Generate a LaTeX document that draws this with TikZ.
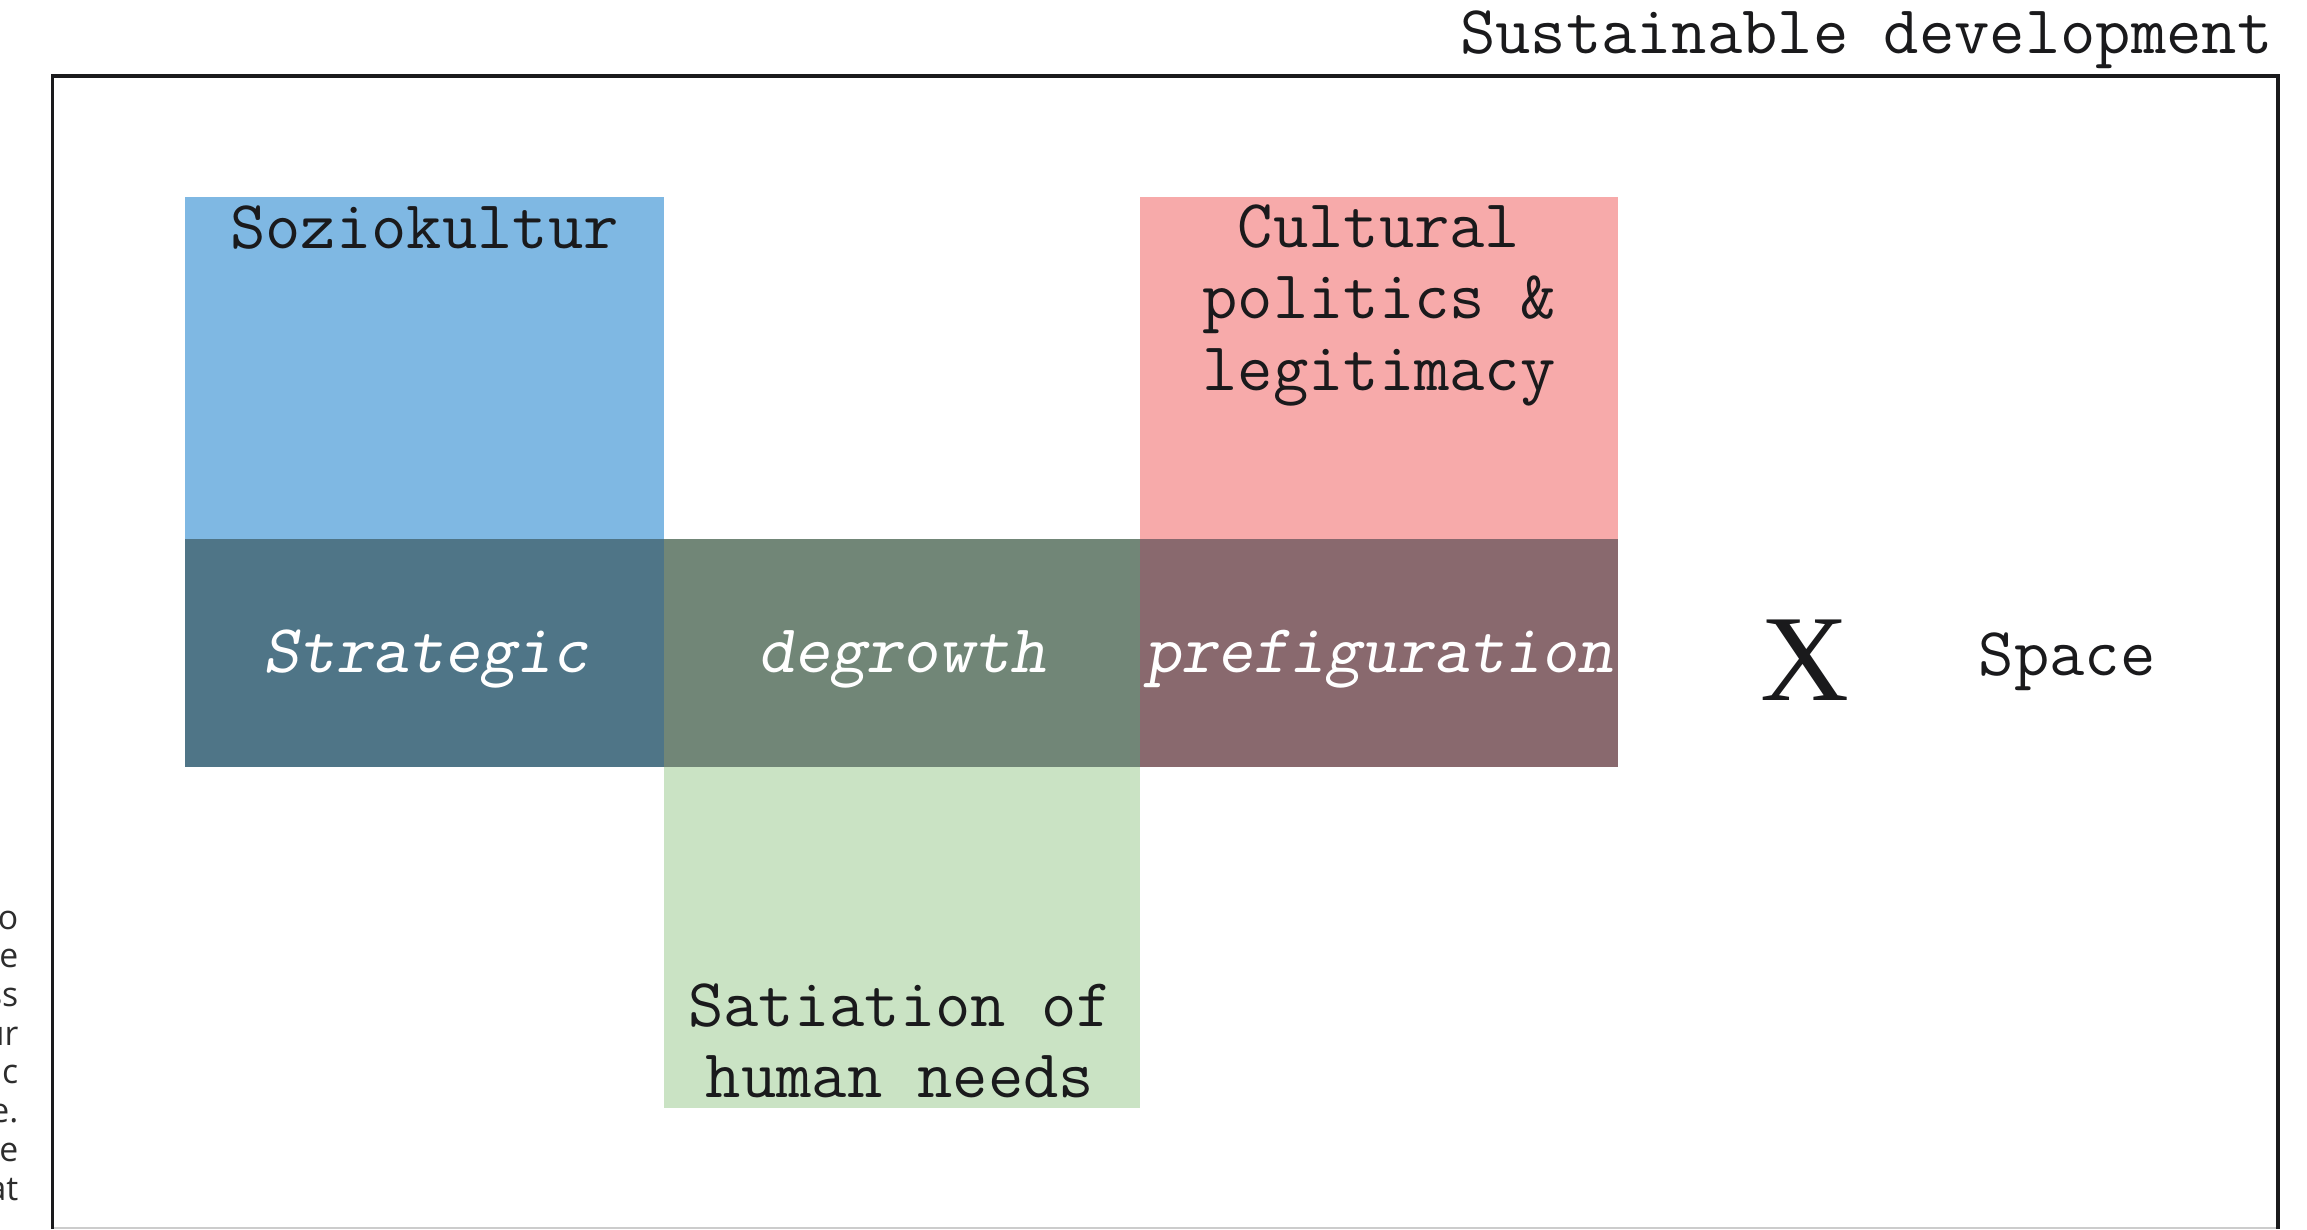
\documentclass[tikz,border=0pt]{standalone}
\usepackage{fontspec}
\setmainfont{Liberation Serif}
\newfontfamily\sidefont{Open Sans}
\usepackage{tikz}
\definecolor{box_blue}{RGB}{127,184,227}
\definecolor{box_pink}{RGB}{247,170,170}
\definecolor{box_green}{RGB}{202,227,196}
\definecolor{dark_blue}{RGB}{79,117,135}
\definecolor{dark_green}{RGB}{113,134,119}
\definecolor{dark_mauve}{RGB}{137,105,110}
\definecolor{text_black}{RGB}{26,26,28}
\definecolor{side_gray}{RGB}{45,45,45}

\begin{document}
\begin{tikzpicture}[x=0.01cm,y=-0.01cm]
    \tikzstyle{boxtext}=[font=\ttfamily\fontsize{19.5}{20.3}\selectfont, text=text_black, align=center, anchor=base, inner sep=0pt]
    \tikzstyle{midtext}=[boxtext, font=\ttfamily\slshape\fontsize{19.5}{20.3}\selectfont, text=white]

    \useasboundingbox (0,0) rectangle (2307,1229);

    % top row
    \fill[box_blue] (185,197) rectangle (664,538.5);
    \fill[box_pink] (1140,197) rectangle (1618,538.5);
    % middle row
    \fill[dark_blue] (185,538.5) rectangle (664,766.5);
    \fill[dark_green] (664,538.5) rectangle (1140,766.5);
    \fill[dark_mauve] (1140,538.5) rectangle (1618,766.5);
    % bottom row
    \fill[box_green] (664,766.5) rectangle (1140,1108);

    \draw[line width=1pt, text_black] (52.5,1229) -- (52.5,76) -- (2278,76) -- (2278,1229);
    \draw[gray!40, line width=0.5pt] (54,1228) -- (2276,1228);

    % multi-line nodes sit on the baseline of their last line
    \node[boxtext] (soz)   at (424.5,248.5) {Soziokultur};
    \node[boxtext] (cult)  at (1379,390)    {Cultural\\politics \&\\legitimacy};
    \node[midtext] (strat) at (426,672)     {Strategic};
    \node[midtext] (degr)  at (902,672)     {degrowth};
    \node[midtext] (pref)  at (1379,672)    {prefiguration};
    \node[boxtext] (sat)   at (900,1097.5)  {Satiation of\\human needs};
    \node[boxtext, font=\rmfamily\fontsize{35}{35}\selectfont] (cross) at (1805,700) {X};
    \node[boxtext] (space) at (2067,675)    {Space};
    \node[boxtext, anchor=base east] (title) at (2273,53) {Sustainable development};
    \node[anchor=base east, align=right, inner sep=0pt, text=side_gray,
          font=\sidefont\fontsize{9.6}{11}\selectfont] (side) at (19,1200) {o\\e\\ss\\ur\\ic\\e.\\e\\at};
\end{tikzpicture}
\end{document}
